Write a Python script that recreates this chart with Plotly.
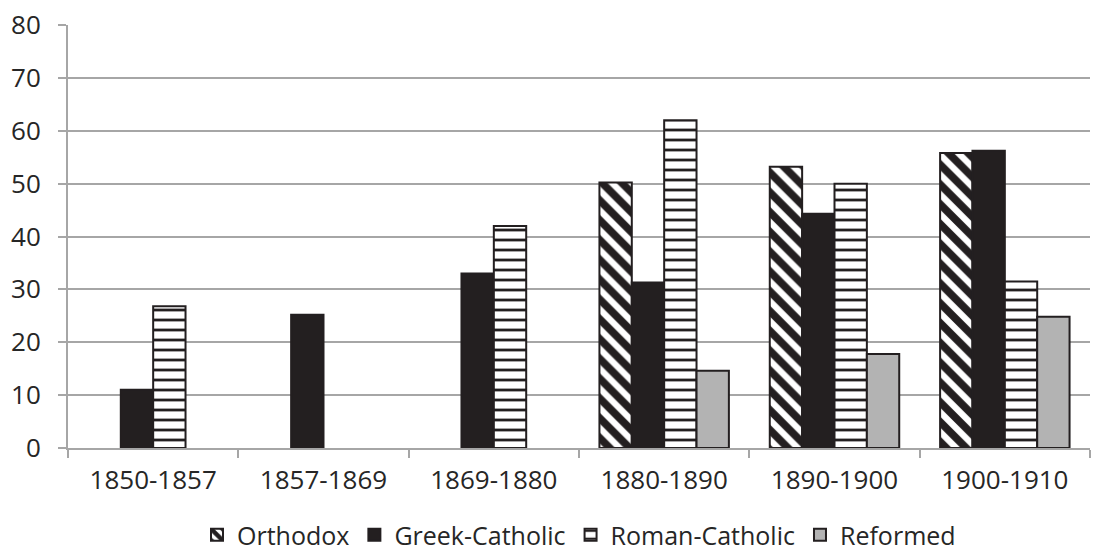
import plotly.graph_objects as go

periods = ["1850-1857", "1857-1869", "1869-1880", "1880-1890", "1890-1900", "1900-1910"]
orthodox = [None, None, None, 50.2, 53.2, 55.8]
greek_catholic = [11.0, 25.2, 33.0, 31.3, 44.3, 56.2]
roman_catholic = [26.8, None, 42.0, 62.0, 50.0, 31.5]
reformed = [None, None, None, 14.6, 17.8, 24.8]

ink = "#231f20"
grid = "#a6a6a6"
font_family = "Open Sans, Liberation Sans, sans-serif"
fsize = 26

fig = go.Figure()
fig.add_bar(
    name="Orthodox", x=periods, y=orthodox,
    marker=dict(color="white", line=dict(color=ink, width=2),
                pattern=dict(shape="\\", fgcolor=ink, bgcolor="white", fgopacity=1,
                             size=14, solidity=0.55, fillmode="overlay")),
)
fig.add_bar(
    name="Greek-Catholic", x=periods, y=greek_catholic,
    marker=dict(color=ink, line=dict(color=ink, width=2)),
)
fig.add_bar(
    name="Roman-Catholic", x=periods, y=roman_catholic,
    marker=dict(color="white", line=dict(color=ink, width=2),
                pattern=dict(shape="-", fgcolor=ink, bgcolor="white", fgopacity=1,
                             size=10, solidity=0.28, fillmode="overlay")),
)
fig.add_bar(
    name="Reformed", x=periods, y=reformed,
    marker=dict(color="#b3b3b3", line=dict(color=ink, width=2)),
)

fig.update_layout(
    width=1110, height=558,
    margin=dict(l=68, r=20, t=25, b=110, autoexpand=False),
    plot_bgcolor="white", paper_bgcolor="white",
    barmode="group", bargap=0.24, bargroupgap=0,
    font=dict(family=font_family, size=fsize, color="#262626"),
    showlegend=True,
    legend=dict(orientation="h", x=0.5, xanchor="center",
                yref="container", y=-0.018, yanchor="bottom",
                font=dict(size=fsize - 1), itemsizing="constant", traceorder="normal",
                itemwidth=30, tracegroupgap=0),
)
fig.update_xaxes(
    type="category", showgrid=False, showline=True, linecolor=grid, linewidth=2,
    ticks="outside", tickson="boundaries", ticklen=8, tickcolor=grid, tickwidth=2,
    zeroline=False, tickfont=dict(size=fsize), ticklabelstandoff=8,
)
fig.update_yaxes(
    range=[0, 80], dtick=10, showgrid=True, gridcolor=grid, gridwidth=2,
    showline=True, linecolor=grid, linewidth=2,
    ticks="outside", ticklen=8, tickcolor=grid, tickwidth=2, zeroline=False,
    tickfont=dict(size=fsize), ticklabelstandoff=12,
)

fig.write_html("out.html")
